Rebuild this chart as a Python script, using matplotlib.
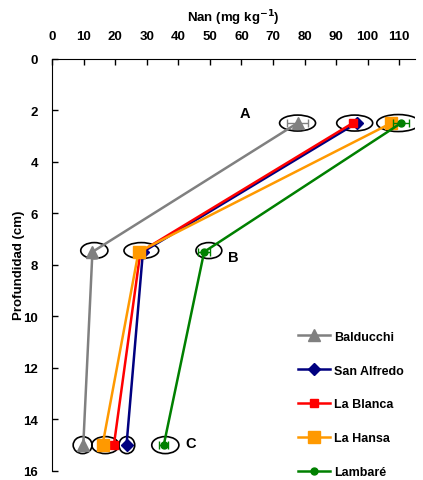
import matplotlib.pyplot as plt
from matplotlib.patches import Ellipse

plt.rcParams['font.family'] = ['Liberation Sans', 'DejaVu Sans']
plt.rcParams['font.weight'] = 'bold'
plt.rcParams['mathtext.default'] = 'bf'

# datos
profundidad = [2.5, 7.5, 15]
series = ["Balducchi", "San Alfredo", "La Blanca", "La Hansa", "Lambaré"]
balducchi = [77.8, 12.8, 9.9]
san_alfredo = [96.5, 28.8, 23.6]
la_blanca = [95.3, 28.0, 19.6]
la_hansa = [107.5, 27.4, 16.0]
lambare = [110.6, 48.2, 35.4]
err_balducchi = [3.2, 0.0, 0.0]
err_san_alfredo = [0.8, 0.0, 0.0]
err_la_blanca = [0.8, 0.0, 0.0]
err_la_hansa = [1.5, 0.0, 0.0]
err_lambare = [2.6, 2.0, 1.5]

valores = [balducchi, san_alfredo, la_blanca, la_hansa, lambare]
errores = [err_balducchi, err_san_alfredo, err_la_blanca, err_la_hansa, err_lambare]
colores = ["#808080", "#000080", "#FF0000", "#FF9900", "#008000"]
marcadores = [("^", 8), ("D", 6), ("s", 6), ("s", 9), ("o", 5)]

# elipses (centro x, centro y, ancho, alto)
elipses = [(77.8, 2.5, 11.4, 0.62), (95.9, 2.5, 11.4, 0.62), (109.7, 2.5, 13.6, 0.66),
           (13.4, 7.45, 8.6, 0.62), (28.3, 7.45, 11.0, 0.62), (49.7, 7.45, 8.2, 0.62),
           (9.7, 15.0, 6.0, 0.66), (16.9, 15.0, 8.6, 0.66), (23.7, 15.0, 5.0, 0.66),
           (35.9, 15.0, 8.6, 0.66)]
letras = [("A", 61, 2.1), ("B", 57.5, 7.7), ("C", 44, 14.9)]

fig = plt.figure(figsize=(4.23, 4.81), dpi=100)
ax = fig.add_axes([0.123, 0.019, 0.858, 0.857])

for nombre, v, e, c, (m, ms) in zip(series, valores, errores, colores, marcadores):
    ax.errorbar(v, profundidad, xerr=e, color=c, fmt="none", capsize=3, elinewidth=1)
    ax.plot(v, profundidad, color=c, marker=m, markersize=ms, linewidth=1.8, label=nombre)

for (cx, cy, w, h) in elipses:
    ax.add_patch(Ellipse((cx, cy), w, h, fill=False, edgecolor="black", linewidth=1.2))

for t, x, y in letras:
    ax.text(x, y, t, fontsize=10.5, fontweight="bold", ha="center", va="center")

ax.set_xlim(0, 115)
ax.set_ylim(16, 0)
ax.set_xticks(range(0, 111, 10))
ax.set_yticks(range(0, 17, 2))
ax.xaxis.tick_top()
ax.xaxis.set_label_position("top")
ax.tick_params(direction="in", length=4, labelsize=9.5, width=1)
ax.tick_params(axis="x", pad=12)
ax.tick_params(axis="y", pad=10)
for lbl in ax.get_xticklabels() + ax.get_yticklabels():
    lbl.set_fontweight("bold")
ax.spines["right"].set_visible(False)
ax.spines["bottom"].set_visible(False)
ax.set_xlabel("Nan (mg kg$^{-1}$)", fontsize=9.5, fontweight="bold", labelpad=6)
ax.set_ylabel("Profundidad (cm)", fontsize=9.5, fontweight="bold", labelpad=-1)

leg = ax.legend(loc="lower right", frameon=False, prop={"size": 9, "weight": "bold"},
                labelspacing=1.75, handlelength=2.6, handletextpad=0.3,
                bbox_to_anchor=(1.0, -0.045))

fig.savefig("out.png", dpi=100)
